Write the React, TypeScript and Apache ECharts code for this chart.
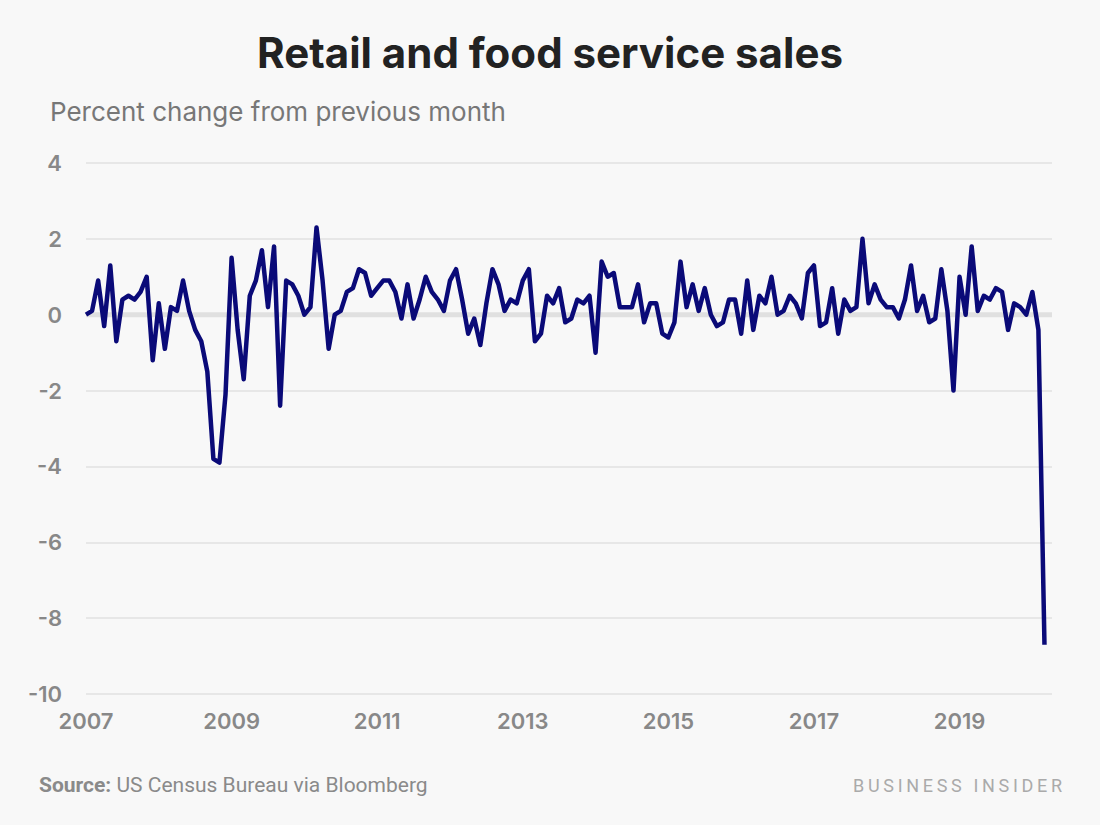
import React, { useEffect, useRef } from "react";
import * as echarts from "echarts";

const startYear = 2007;
// Monthly percent change, Jan 2007 - Mar 2020
const values: number[] = [
  // 2007
  0.0, 0.1, 0.9, -0.3, 1.3, -0.7, 0.4, 0.5, 0.4, 0.6, 1.0, -1.2,
  // 2008
  0.3, -0.9, 0.2, 0.1, 0.9, 0.1, -0.4, -0.7, -1.5, -3.8, -3.9, -2.1,
  // 2009
  1.5, -0.4, -1.7, 0.5, 0.9, 1.7, 0.2, 1.8, -2.4, 0.9, 0.8, 0.5,
  // 2010
  0.0, 0.2, 2.3, 0.9, -0.9, 0.0, 0.1, 0.6, 0.7, 1.2, 1.1, 0.5,
  // 2011
  0.7, 0.9, 0.9, 0.6, -0.1, 0.8, -0.1, 0.4, 1.0, 0.6, 0.4, 0.1,
  // 2012
  0.9, 1.2, 0.4, -0.5, -0.1, -0.8, 0.3, 1.2, 0.8, 0.1, 0.4, 0.3,
  // 2013
  0.9, 1.2, -0.7, -0.5, 0.5, 0.3, 0.7, -0.2, -0.1, 0.4, 0.3, 0.5,
  // 2014
  -1.0, 1.4, 1.0, 1.1, 0.2, 0.2, 0.2, 0.8, -0.2, 0.3, 0.3, -0.5,
  // 2015
  -0.6, -0.2, 1.4, 0.2, 0.8, 0.1, 0.7, 0.0, -0.3, -0.2, 0.4, 0.4,
  // 2016
  -0.5, 0.9, -0.4, 0.5, 0.3, 1.0, 0.0, 0.1, 0.5, 0.3, -0.1, 1.1,
  // 2017
  1.3, -0.3, -0.2, 0.7, -0.5, 0.4, 0.1, 0.2, 2.0, 0.3, 0.8, 0.4,
  // 2018
  0.2, 0.2, -0.1, 0.4, 1.3, 0.1, 0.5, -0.2, -0.1, 1.2, 0.1, -2.0,
  // 2019
  1.0, 0.0, 1.8, 0.1, 0.5, 0.4, 0.7, 0.6, -0.4, 0.3, 0.2, 0.0,
  // 2020
  0.6, -0.4, -8.7,
];

const yTicks = { min: -10, max: 4, interval: 2 };
const xRange = { min: 2007, max: 2020.27, interval: 2 };

const titleText = "Retail and food service sales";
const subtitleText = "Percent change from previous month";
const sourceLabel = "Source:";
const sourceText = " US Census Bureau via Bloomberg";
const brandText = "BUSINESS INSIDER";

export default function App() {
  const ref = useRef<HTMLDivElement>(null);

  useEffect(() => {
    if (!ref.current) return;
    const chart = echarts.init(ref.current, undefined, { renderer: "svg" });
    const points = values.map((v, i) => [startYear + i / 12, v]);

    chart.setOption({
      animation: false,
      backgroundColor: "#f8f8f8",
      title: [
        {
          text: titleText,
          left: "center",
          top: 26,
          textStyle: {
            fontFamily: "Inter",
            fontWeight: 700,
            fontSize: 42,
            color: "#222222",
          },
        },
        {
          text: subtitleText,
          left: 45,
          top: 93,
          textStyle: {
            fontFamily: "Inter",
            fontWeight: 400,
            fontSize: 26,
            color: "#777777",
          },
        },
        {
          text: "{b|" + sourceLabel + "}{r|" + sourceText + "}",
          left: 34,
          top: 769,
          textStyle: {
            rich: {
              b: {
                fontFamily: "Roboto",
                fontWeight: 700,
                fontSize: 21,
                color: "#8a8a8a",
              },
              r: {
                fontFamily: "Roboto",
                fontWeight: 400,
                fontSize: 21,
                color: "#8a8a8a",
              },
            },
          },
        },
        {
          text: brandText.split("").join("\u2009"),
          right: 33,
          top: 771,
          textStyle: {
            fontFamily: "Roboto",
            fontWeight: 400,
            fontSize: 18,
            color: "#aaaaaa",
          },
        },
      ],
      grid: { left: 86, right: 48, top: 163, bottom: 131, containLabel: false },
      xAxis: {
        type: "value",
        min: xRange.min,
        max: xRange.max,
        interval: xRange.interval,
        axisLine: { show: false },
        axisTick: { show: false },
        splitLine: { show: false },
        axisLabel: {
          margin: 16,
          showMaxLabel: false,
          fontFamily: "Inter",
          fontWeight: 600,
          fontSize: 22,
          color: "#888888",
          formatter: (v: number) => (Math.abs(v - Math.round(v)) < 1e-6 ? String(Math.round(v)) : ""),
        },
      },
      yAxis: {
        type: "value",
        min: yTicks.min,
        max: yTicks.max,
        interval: yTicks.interval,
        axisLine: { show: false },
        axisTick: { show: false },
        axisLabel: {
          margin: 24,
          fontFamily: "Inter",
          fontWeight: 600,
          fontSize: 22,
          color: "#888888",
        },
        splitLine: { lineStyle: { color: "#e2e2e2", width: 1.5 } },
      },
      series: [
        {
          type: "line",
          silent: true,
          z: 1,
          symbol: "none",
          data: [
            [xRange.min, 0],
            [xRange.max, 0],
          ],
          lineStyle: { color: "#e0e0e0", width: 5 },
        },
        {
          type: "line",
          z: 2,
          symbol: "none",
          data: points,
          lineStyle: { color: "#0a0a78", width: 4.5, join: "round" },
        },
      ],
    });

    return () => chart.dispose();
  }, []);

  return (
    <div
      ref={ref}
      style={{ position: "fixed", left: 0, top: 0, width: 1100, height: 825 }}
    />
  );
}
